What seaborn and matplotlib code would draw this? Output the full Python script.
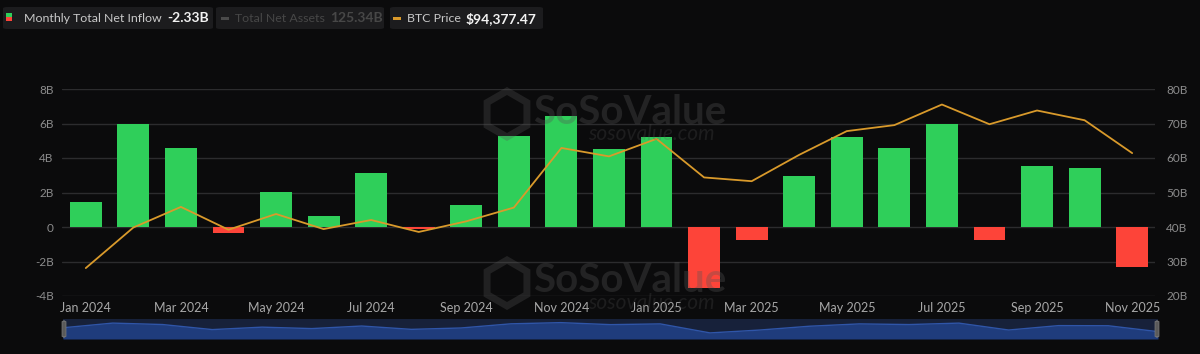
import numpy as np
import pandas as pd
import matplotlib
matplotlib.use("Agg")
import matplotlib.pyplot as plt
from matplotlib.patches import FancyBboxPatch, Polygon, Rectangle
import seaborn as sns

# ---------------- data ----------------
months = ["Jan 2024", "Feb 2024", "Mar 2024", "Apr 2024", "May 2024", "Jun 2024",
          "Jul 2024", "Aug 2024", "Sep 2024", "Oct 2024", "Nov 2024", "Dec 2024",
          "Jan 2025", "Feb 2025", "Mar 2025", "Apr 2025", "May 2025", "Jun 2025",
          "Jul 2025", "Aug 2025", "Sep 2025", "Oct 2025", "Nov 2025"]
net_inflow_b = [1.45, 6.0, 4.6, -0.33, 2.05, 0.65, 3.15, -0.1, 1.25, 5.3, 6.45, 4.5,
                5.22, -3.56, -0.76, 2.96, 5.22, 4.58, 5.98, -0.75, 3.54, 3.42, -2.33]
btc_price = [42500, 60800, 70100, 59800, 66900, 60100, 64200, 58800, 63600, 69800,
             96700, 92900, 100800, 83400, 81700, 93600, 104300, 107000, 116300,
             107400, 113600, 109200, 94377.47]
left_ticks = [-4, -2, 0, 2, 4, 6, 8]
left_labels = ["-4B", "-2B", "0", "2B", "4B", "6B", "8B"]
right_ticks = [20, 30, 40, 50, 60, 70, 80]
right_labels = ["20B", "30B", "40B", "50B", "60B", "70B", "80B"]
xtick_labels = months[::2]

legend_inflow = "-2.33B"
legend_assets = "125.34B"
legend_btc = "$94,377.47"

# ---------------- style ----------------
BG = "#0b0b0c"
GREEN = "#2fcf5a"
RED = "#fd4439"
ORANGE = "#d99a2b"
GRID = "#2c2c2e"
TICK = "#8c8c8c"

sns.set_theme(style="dark")
plt.rcParams["font.family"] = ["Lato", "DejaVu Sans"]

W, H = 1200, 354
fig = plt.figure(figsize=(W / 100, H / 100), dpi=100, facecolor=BG)


def fx(px):
    return px / W


def fy(py):
    return 1 - py / H


ax_l, ax_r, ax_t, ax_b = 62, 1155, 89, 296
ax = fig.add_axes([fx(ax_l), fy(ax_b), fx(ax_r - ax_l), (ax_b - ax_t) / H])
ax.set_facecolor(BG)

df = pd.DataFrame({"month": months, "inflow": net_inflow_b})
df["sign"] = np.where(df["inflow"] >= 0, "pos", "neg")
sns.barplot(data=df, x="month", y="inflow", hue="sign", order=months,
            palette={"pos": GREEN, "neg": RED}, dodge=False, width=0.67,
            saturation=1, legend=False, ax=ax, zorder=3, linewidth=0, edgecolor="none")

ax.set_xlim(-0.5, 22.48)
ax.set_ylim(-4, 8)
ax.set_yticks(left_ticks)
ax.set_yticklabels(left_labels)
ax.set_xticks(range(0, len(months), 2))
ax.set_xticklabels(xtick_labels)
ax.set_xlabel("")
ax.set_ylabel("")
ax.grid(axis="y", color=GRID, lw=1, zorder=0)
ax.grid(axis="x", visible=False)
for s in ax.spines.values():
    s.set_visible(False)
ax.tick_params(axis="y", colors=TICK, labelsize=8.5, length=0, pad=6)
ax.tick_params(axis="x", colors="#a8a8a8", labelsize=9, length=0, pad=4)

# right axis labels (Total Net Assets scale)
ax2 = ax.twinx()
ax2.set_ylim(20, 80)
ax2.set_yticks(right_ticks)
ax2.set_yticklabels(right_labels)
ax2.tick_params(axis="y", colors=TICK, labelsize=8.5, length=0, pad=8)
ax2.grid(False)
for s in ax2.spines.values():
    s.set_visible(False)

# BTC price on hidden axis
ax3 = ax.twinx()
sns.lineplot(x=np.arange(len(months)), y=btc_price, color=ORANGE, lw=1.3, ax=ax3, zorder=4)
ax3.set_ylim(29900, 123300)
ax3.axis("off")

# ---------------- watermark ----------------
WM = "#555555"
for cy in (114, 283):
    cx, r = 507, 23
    ang = np.deg2rad(np.arange(6) * 60 + 30)
    pts = [(fx(cx + r * np.cos(a)), fy(cy + r * np.sin(a))) for a in ang]
    fig.patches.append(Polygon(pts, closed=True, transform=fig.transFigure,
                               facecolor="none", edgecolor=WM, lw=5, alpha=0.3, zorder=10))
    fig.text(fx(533), fy(cy - 2), "SoSoValue", color=WM, alpha=0.33, fontsize=29,
             fontweight="bold", ha="left", va="center", zorder=10)
    fig.text(fx(588), fy(cy + 20), "sosovalue.com", color=WM, alpha=0.25,
             fontsize=15, style="italic", ha="left", va="center", zorder=10)

# ---------------- legend boxes ----------------
renderer = fig.canvas.get_renderer()


def box(x0, x1):
    fig.patches.append(FancyBboxPatch((fx(x0), fy(29)), fx(x1 - x0), 22 / H,
                                      boxstyle="round,pad=0,rounding_size=0.004",
                                      transform=fig.transFigure, facecolor="#1c1c1e",
                                      edgecolor="none", zorder=1))


def pair(x0, label, value, lcol, vcol):
    t = fig.text(fx(x0), fy(18.5), label, color=lcol, fontsize=8.9,
                 ha="left", va="center", zorder=3)
    bb = t.get_window_extent(renderer)
    t2 = fig.text((bb.x1 + 5) / W, fy(18.5), value, color=vcol, fontsize=10,
                  fontweight="bold", ha="left", va="center", zorder=3)
    return t2.get_window_extent(renderer).x1


box(3, 213)
box(216, 384)
box(390, 543)
# icon 1: half green / half red square
fig.patches.append(Rectangle((fx(6), fy(21)), fx(6), 4 / H, transform=fig.transFigure,
                             facecolor=RED, edgecolor="none", zorder=2))
fig.patches.append(Rectangle((fx(6), fy(17)), fx(6), 4 / H, transform=fig.transFigure,
                             facecolor=GREEN, edgecolor="none", zorder=2))
pair(24, "Monthly Total Net Inflow", legend_inflow, "#c9c9c9", "#f2f2f2")
# icon 2
fig.patches.append(Rectangle((fx(221), fy(19.5)), fx(8), 3 / H, transform=fig.transFigure,
                             facecolor="#4a4a4a", edgecolor="none", zorder=2))
pair(235, "Total Net Assets", legend_assets, "#474747", "#474747")
# icon 3
fig.patches.append(Rectangle((fx(393), fy(19.5)), fx(8), 3 / H, transform=fig.transFigure,
                             facecolor=ORANGE, edgecolor="none", zorder=2))
pair(407, "BTC Price", legend_btc, "#c9c9c9", "#f2f2f2")

# ---------------- navigator ----------------
nl, nr, nt, nb = 63, 1158, 319, 339
axn = fig.add_axes([fx(nl), fy(nb), fx(nr - nl), (nb - nt) / H])
axn.set_facecolor("#17213a")
xs = np.arange(len(months))
axn.fill_between(xs, -9.5, net_inflow_b, color="#1f3c7c", lw=0)
axn.plot(xs, net_inflow_b, color="#2f55a8", lw=1)
axn.set_xlim(0, len(months) - 1)
axn.set_ylim(-9.5, 10)
axn.set_xticks([])
axn.set_yticks([])
axn.grid(False)
for s in axn.spines.values():
    s.set_visible(False)
for hx in (nl - 1, nr - 3):
    fig.patches.append(FancyBboxPatch((fx(hx), fy(337)), fx(4), 16 / H,
                                      boxstyle="round,pad=0,rounding_size=0.002",
                                      transform=fig.transFigure, facecolor="#5a5a5a",
                                      edgecolor="#7a7a7a", lw=0.5, zorder=5))

fig.savefig("out.png", dpi=100, facecolor=BG)
